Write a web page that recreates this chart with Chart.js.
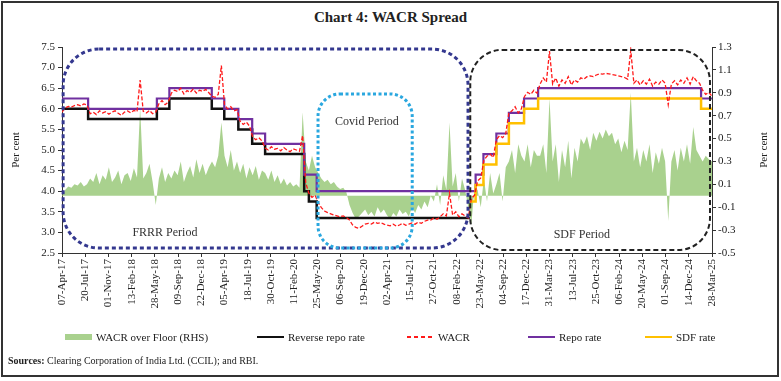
<!DOCTYPE html>
<html>
<head>
<meta charset="utf-8">
<script src="https://cdn.jsdelivr.net/npm/chart.js@4"></script>
<style>
  html, body { margin: 0; padding: 0; background: #fff; }
  #wrap { position: relative; width: 781px; height: 381px; font-family: "Liberation Serif", serif; color: #222; }
  #frame { position: absolute; left: 1px; top: 1px; width: 774px; height: 372px; border: 2px solid #333; }
  #title { position: absolute; top: 9px; left: 0; width: 781px; text-align: center; font-weight: bold; font-size: 15px; }
  #chart { position: absolute; left: 0; top: 0; }
  #legend { position: absolute; top: 331px; left: 65px; display: grid; grid-template-columns: 192px 150px 121px 117px auto; font-size: 11px; }
  .item { display: flex; align-items: center; white-space: nowrap; }
  .sw { width: 27px; margin-right: 4px; }
  #sources { position: absolute; left: 8px; top: 355px; font-size: 10px; }
</style>
</head>
<body>
<div id="wrap">
  <div id="frame"></div>
  <div id="title">Chart 4: WACR Spread</div>
  <canvas id="chart" width="781" height="381"></canvas>
  <div id="legend"></div>
  <div id="sources"><b>Sources:</b> Clearing Corporation of India Ltd. (CCIL); and RBI.</div>
</div>
<script>
// x axis tick labels (every 104 days)
const tickLabels = [
  "07-Apr-17","20-Jul-17","01-Nov-17","13-Feb-18","28-May-18","09-Sep-18","22-Dec-18",
  "05-Apr-19","18-Jul-19","30-Oct-19","11-Feb-20","25-May-20","06-Sep-20","19-Dec-20",
  "02-Apr-21","15-Jul-21","27-Oct-21","08-Feb-22","23-May-22","04-Sep-22","17-Dec-22",
  "31-Mar-23","13-Jul-23","25-Oct-23","06-Feb-24","20-May-24","01-Sep-24","14-Dec-24","28-Mar-25"
];
const leftTicks = [2.5, 3.0, 3.5, 4.0, 4.5, 5.0, 5.5, 6.0, 6.5, 7.0, 7.5];
const rightTicks = [-0.5, -0.3, -0.1, 0.1, 0.3, 0.5, 0.7, 0.9, 1.1, 1.3];

// policy rate changes
const rateDates = [
  "2017-04-07","2017-08-02","2018-06-06","2018-08-01","2019-02-07","2019-04-04","2019-06-06",
  "2019-08-07","2019-10-04","2020-03-27","2020-04-17","2020-05-22","2022-04-08","2022-05-04",
  "2022-06-08","2022-08-05","2022-09-30","2022-12-07","2023-02-08","2025-02-07"
];
const repoRate = [6.25,6.00,6.25,6.50,6.25,6.00,5.75,5.40,5.15,4.40,4.40,4.00,4.00,4.40,4.90,5.40,5.90,6.25,6.50,6.25];
const reverseRepoRate = [6.00,5.75,6.00,6.25,6.00,5.75,5.50,5.15,4.90,4.00,3.75,3.35,3.35,null,null,null,null,null,null,null];
const sdfRate = [null,null,null,null,null,null,null,null,null,null,null,null,3.75,4.15,4.65,5.15,5.65,6.00,6.25,6.00];

// WACR and WACR over floor, read roughly every 14 days from 07-Apr-17
const STEP_DAYS = 14;
const wacr = [
  5.92,6.02,6.06,6.04,6.08,6.10,6.07,6.12,6.09,
  5.88,5.92,5.86,5.95,5.90,5.93,5.87,5.92,5.95,5.89,5.84,5.92,5.95,5.90,5.96,5.93,6.70,5.94,5.90,5.96,5.88,5.92,
  6.12,6.20,6.10,6.16,
  6.38,6.45,6.42,6.50,6.36,6.44,6.40,6.48,6.38,6.45,6.42,6.47,6.39,
  6.30,6.28,6.35,7.05,
  6.10,6.00,6.05,5.95,5.98,
  5.70,5.62,5.68,5.58,
  5.32,5.25,5.30,5.22,
  5.05,5.00,5.08,5.02,5.04,4.98,5.06,5.00,4.96,5.03,5.00,4.97,5.35,
  4.20,3.95,3.85,3.90,
  3.72,3.60,3.52,3.48,3.45,3.42,3.40,3.38,3.40,3.36,3.30,3.18,3.12,3.10,3.15,3.20,3.22,3.20,3.25,3.22,3.24,3.20,3.18,
  3.16,3.20,3.15,3.18,3.22,3.17,3.20,3.23,3.20,3.25,3.22,3.27,3.30,
  3.30,3.35,3.32,3.38,3.45,3.40,3.95,3.42,3.50,3.38,3.45,3.40,3.35,
  3.82,3.90,
  4.25,4.32,
  4.75,4.85,4.90,4.82,
  5.25,5.35,5.30,5.40,
  5.90,5.95,6.05,5.90,6.00,
  6.30,6.40,6.35,6.45,6.38,
  6.60,6.75,6.65,7.40,6.60,6.75,6.55,6.70,6.62,6.78,6.58,6.70,6.65,6.75,
  6.72,6.78,6.80,6.78,6.82,6.85,6.84,6.86,6.85,6.83,6.82,6.80,6.78,6.76,6.72,
  7.42,
  6.62,6.70,6.58,6.68,6.60,6.72,6.55,6.65,6.60,6.70,6.62,6.10,6.60,6.68,6.58,6.70,6.62,6.75,6.60,6.78,6.68,6.62,
  6.45,6.35,6.40,6.30
];
const wacrOverFloor = [
  0.00,0.05,0.08,0.07,0.10,0.09,0.12,0.08,0.10,
  0.15,0.12,0.20,0.10,0.18,0.14,0.25,0.12,0.16,0.22,0.10,0.18,0.20,0.13,0.24,0.16,0.77,0.15,0.20,0.28,0.12,-0.08,
  0.15,0.25,0.12,0.20,
  0.15,0.22,0.18,0.30,0.12,0.20,0.26,0.16,0.32,0.20,0.28,0.18,0.25,
  0.30,0.25,0.35,0.64,
  0.35,0.25,0.40,0.22,0.30,
  0.20,0.28,0.15,0.25,
  0.18,0.26,0.14,0.22,
  0.20,0.14,0.22,0.12,0.18,0.10,0.15,0.09,0.12,0.08,0.10,0.07,0.73,
  0.30,0.22,0.35,0.25,
  0.20,0.15,0.12,0.14,0.10,0.12,0.08,0.06,0.07,0.03,-0.08,-0.15,-0.20,-0.18,-0.15,-0.12,-0.17,-0.14,-0.18,-0.10,-0.15,-0.12,-0.17,
  -0.20,-0.15,-0.18,-0.12,-0.16,-0.14,-0.18,-0.10,-0.15,-0.08,-0.12,-0.05,-0.10,
  0.00,-0.05,0.10,-0.08,0.18,0.05,0.64,0.08,0.20,-0.05,0.15,0.05,-0.10,
  -0.25,0.08,
  0.05,-0.10,
  0.15,-0.05,0.20,0.02,
  0.10,0.20,-0.05,0.25,
  0.30,0.40,0.20,0.45,0.35,
  0.30,0.45,0.25,0.40,0.35,
  0.35,0.45,0.20,0.85,0.30,0.45,0.12,0.40,0.25,0.48,0.15,0.42,0.30,0.50,
  0.45,0.52,0.40,0.55,0.48,0.56,0.50,0.58,0.52,0.55,0.45,0.50,0.38,0.48,0.40,
  0.90,
  0.30,0.42,0.25,0.40,0.30,0.45,0.20,0.38,0.28,0.42,0.30,-0.22,0.30,0.40,0.22,0.42,0.30,0.45,0.28,0.60,0.40,0.35,
  0.30,0.35,0.32,0.30
];

// helpers: day offsets from the first date
const START = Date.UTC(2017, 3, 7);
const MONTHS = {Jan:0,Feb:1,Mar:2,Apr:3,May:4,Jun:5,Jul:6,Aug:7,Sep:8,Oct:9,Nov:10,Dec:11};
function dayOf(iso) {
  const [y, m, d] = iso.split("-").map(Number);
  return Math.round((Date.UTC(y, m - 1, d) - START) / 86400000);
}
function dayOfLabel(lbl) {
  const [d, mon, yy] = lbl.split("-");
  return Math.round((Date.UTC(2000 + Number(yy), MONTHS[mon], Number(d)) - START) / 86400000);
}
const tickDays = tickLabels.map(dayOfLabel);
const END_DAY = tickDays[tickDays.length - 1];

function stepSeries(rates, endIso) {
  const pts = [];
  rateDates.forEach((d, i) => { if (rates[i] != null) pts.push({x: dayOf(d), y: rates[i]}); });
  pts.push({x: dayOf(endIso), y: pts[pts.length - 1].y});
  return pts;
}
const daily = arr => arr.map((v, i) => ({x: i * STEP_DAYS, y: v}));

// period boxes, in data units
const periods = [
  {label: "FRRR Period", from: "2017-04-12", to: "2022-03-31", top: 7.45, bottom: 2.62, radius: 36,
   color: "#34388f", width: 3, dash: [4, 3], textAt: "2018-07-12", textY: 3.0},
  {label: "Covid Period", from: "2020-05-28", to: "2021-07-24", top: 6.36, bottom: 2.62, radius: 22,
   color: "#2aa7df", width: 3, dash: [3, 2.5], textAt: "2021-01-02", textY: 5.68},
  {label: "SDF Period", from: "2022-04-10", to: "2025-03-19", top: 7.43, bottom: 2.57, radius: 32,
   color: "#222", width: 2, dash: [5, 3], textAt: "2023-08-23", textY: 2.94}
];

const periodPlugin = {
  id: "periodBoxes",
  afterDatasetsDraw(chart) {
    const {ctx, scales: {x, y}} = chart;
    ctx.save();
    periods.forEach(p => {
      const l = x.getPixelForValue(dayOf(p.from)), r = x.getPixelForValue(dayOf(p.to));
      const t = y.getPixelForValue(p.top), b = y.getPixelForValue(p.bottom);
      ctx.beginPath();
      ctx.roundRect(l, t, r - l, b - t, p.radius);
      ctx.setLineDash(p.dash);
      ctx.lineWidth = p.width;
      ctx.strokeStyle = p.color;
      ctx.stroke();
      ctx.setLineDash([]);
      ctx.fillStyle = "#333";
      ctx.font = '12px "Liberation Serif", serif';
      ctx.textAlign = "center";
      ctx.textBaseline = "middle";
      ctx.fillText(p.label, x.getPixelForValue(dayOf(p.textAt)), y.getPixelForValue(p.textY));
    });
    ctx.restore();
  }
};

const rightTitlePlugin = {
  id: "rightTitle",
  afterDraw(chart) {
    const {ctx, chartArea} = chart;
    ctx.save();
    ctx.translate(chart.width - 17, (chartArea.top + chartArea.bottom) / 2);
    ctx.rotate(-Math.PI / 2);
    ctx.fillStyle = "#222";
    ctx.font = '11px "Liberation Serif", serif';
    ctx.textAlign = "center";
    ctx.textBaseline = "middle";
    ctx.fillText("Per cent", 0, 0);
    ctx.restore();
  }
};

Chart.defaults.font.family = '"Liberation Serif", serif';
Chart.defaults.font.size = 11;
Chart.defaults.color = "#222";

const axisGrid = {drawOnChartArea: false, tickLength: 4, color: "#333"};

const chart = new Chart(document.getElementById("chart"), {
  type: "line",
  data: {
    datasets: [
      {label: "WACR over Floor (RHS)", data: daily(wacrOverFloor), yAxisID: "y1", order: 5,
       backgroundColor: "#a9d18e", borderWidth: 0, fill: "origin", pointRadius: 0},
      {label: "Reverse repo rate", data: stepSeries(reverseRepoRate, "2022-04-08"), yAxisID: "y", order: 3,
       borderColor: "#111", borderWidth: 2.5, stepped: true, pointRadius: 0},
      {label: "WACR", data: daily(wacr), yAxisID: "y", order: 0,
       borderColor: "#ff1a1a", borderWidth: 1.3, borderDash: [4, 2], pointRadius: 0},
      {label: "Repo rate", data: stepSeries(repoRate, "2025-03-28"), yAxisID: "y", order: 2,
       borderColor: "#7030a0", borderWidth: 2.2, stepped: true, pointRadius: 0},
      {label: "SDF rate", data: stepSeries(sdfRate, "2025-03-28"), yAxisID: "y", order: 1,
       borderColor: "#ffc000", borderWidth: 2.5, stepped: true, pointRadius: 0}
    ]
  },
  options: {
    responsive: false,
    animation: false,
    layout: {padding: {top: 47, left: 0, right: 0, bottom: 0}},
    plugins: {legend: {display: false}, tooltip: {enabled: false}},
    scales: {
      x: {
        type: "linear", min: 0, max: END_DAY,
        afterBuildTicks: s => { s.ticks = tickDays.map(v => ({value: v})); },
        afterFit: s => { s.height = 128; },
        ticks: {callback: (v, i) => tickLabels[i], minRotation: 90, maxRotation: 90, autoSkip: false, padding: 2},
        grid: axisGrid,
        border: {color: "#333"}
      },
      y: {
        position: "left", min: 2.5, max: 7.5,
        afterBuildTicks: s => { s.ticks = leftTicks.map(v => ({value: v})); },
        afterFit: s => { s.width = 62; },
        ticks: {callback: v => v.toFixed(1), padding: 3},
        grid: axisGrid,
        border: {color: "#333"},
        title: {display: true, text: "Per cent", padding: {top: 10, bottom: 0}}
      },
      y1: {
        position: "right", min: -0.5, max: 1.3,
        afterBuildTicks: s => { s.ticks = rightTicks.map(v => ({value: v})); },
        afterFit: s => { s.width = 69; },
        ticks: {callback: v => v.toFixed(1), padding: 2},
        grid: axisGrid,
        border: {color: "#333"}
      }
    }
  },
  plugins: [periodPlugin, rightTitlePlugin]
});

// legend built from the datasets
const legendEl = document.getElementById("legend");
chart.data.datasets.forEach(ds => {
  const item = document.createElement("div");
  item.className = "item";
  const sw = document.createElement("div");
  sw.className = "sw";
  if (ds.fill) {
    sw.style.height = "6px";
    sw.style.background = ds.backgroundColor;
  } else if (ds.borderDash) {
    sw.style.height = "2px";
    sw.style.background = `repeating-linear-gradient(to right, ${ds.borderColor} 0 4px, transparent 4px 7px)`;
  } else {
    sw.style.height = "2px";
    sw.style.background = ds.borderColor;
  }
  item.appendChild(sw);
  item.appendChild(document.createTextNode(ds.label));
  legendEl.appendChild(item);
});
</script>
</body>
</html>
